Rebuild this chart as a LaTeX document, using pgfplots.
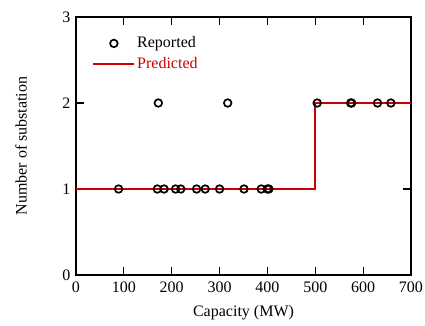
\documentclass[border=0pt]{standalone}
\usepackage{pgfplots}
\pgfplotsset{compat=1.18}
\usepackage{fontspec}
\setmainfont{Liberation Serif}
\definecolor{predred}{RGB}{204,0,0}
\pgfplotsset{
  mylineleg/.style={legend image code/.code={\draw[##1] (0pt,0pt) -- (41pt,0pt);}},
  mymarkleg/.style={legend image code/.code={\draw[##1] plot coordinates {(20.5pt,0pt)};}},
}
\begin{document}
\fontsize{16}{19}\selectfont
\begin{tikzpicture}
\useasboundingbox (-76pt,-50pt) rectangle (349pt,275pt);
\begin{axis}[name=ax, at={(0pt,0pt)}, anchor=south west,
  scale only axis, width=335pt, height=258pt,
  xmin=0, xmax=700, ymin=0, ymax=3,
  xtick={0,100,...,700}, ytick={0,1,2,3},
  tick align=inside, major tick length=8pt,
  tick style={black, line width=1.2pt},
  axis line style={line width=1.4pt},
  /pgf/number format/assume math mode=true,
  ticklabel style={font=\fontsize{16}{19}\selectfont},
  xticklabel style={yshift=-1pt},
  xlabel={Capacity (MW)}, ylabel={Number of substation},
  label style={font=\fontsize{16}{19}\selectfont},
  xlabel style={at={(axis description cs:0.5,0)}, anchor=center, yshift=-38pt},
  ylabel style={at={(axis description cs:0,0.5)}, anchor=center, yshift=55pt},
  legend style={at={(0.04,0.94)}, anchor=north west, draw=none, fill=none,
    font=\fontsize{16}{19}\selectfont, row sep=3pt,
    /tikz/every odd column/.style={column sep=0pt}},
  legend cell align=left,
]
\addplot[only marks, mark=o, mark size=3.8pt, black, line width=1.7pt, mymarkleg] coordinates {
(89,1) (170,1) (184,1) (208,1) (219,1) (252,1) (270,1) (300,1) (351,1) (387,1) (400,1) (403,1)
(172,2) (317,2) (504,2) (574,2) (576,2) (630,2) (658,2)
};
\addlegendentry{Reported}
\addplot[predred, line width=1.6pt, mylineleg] coordinates {(0,1) (500,1) (500,2) (700,2)};
\addlegendentry{\textcolor{predred}{Predicted}}
\end{axis}
\end{tikzpicture}
\end{document}
